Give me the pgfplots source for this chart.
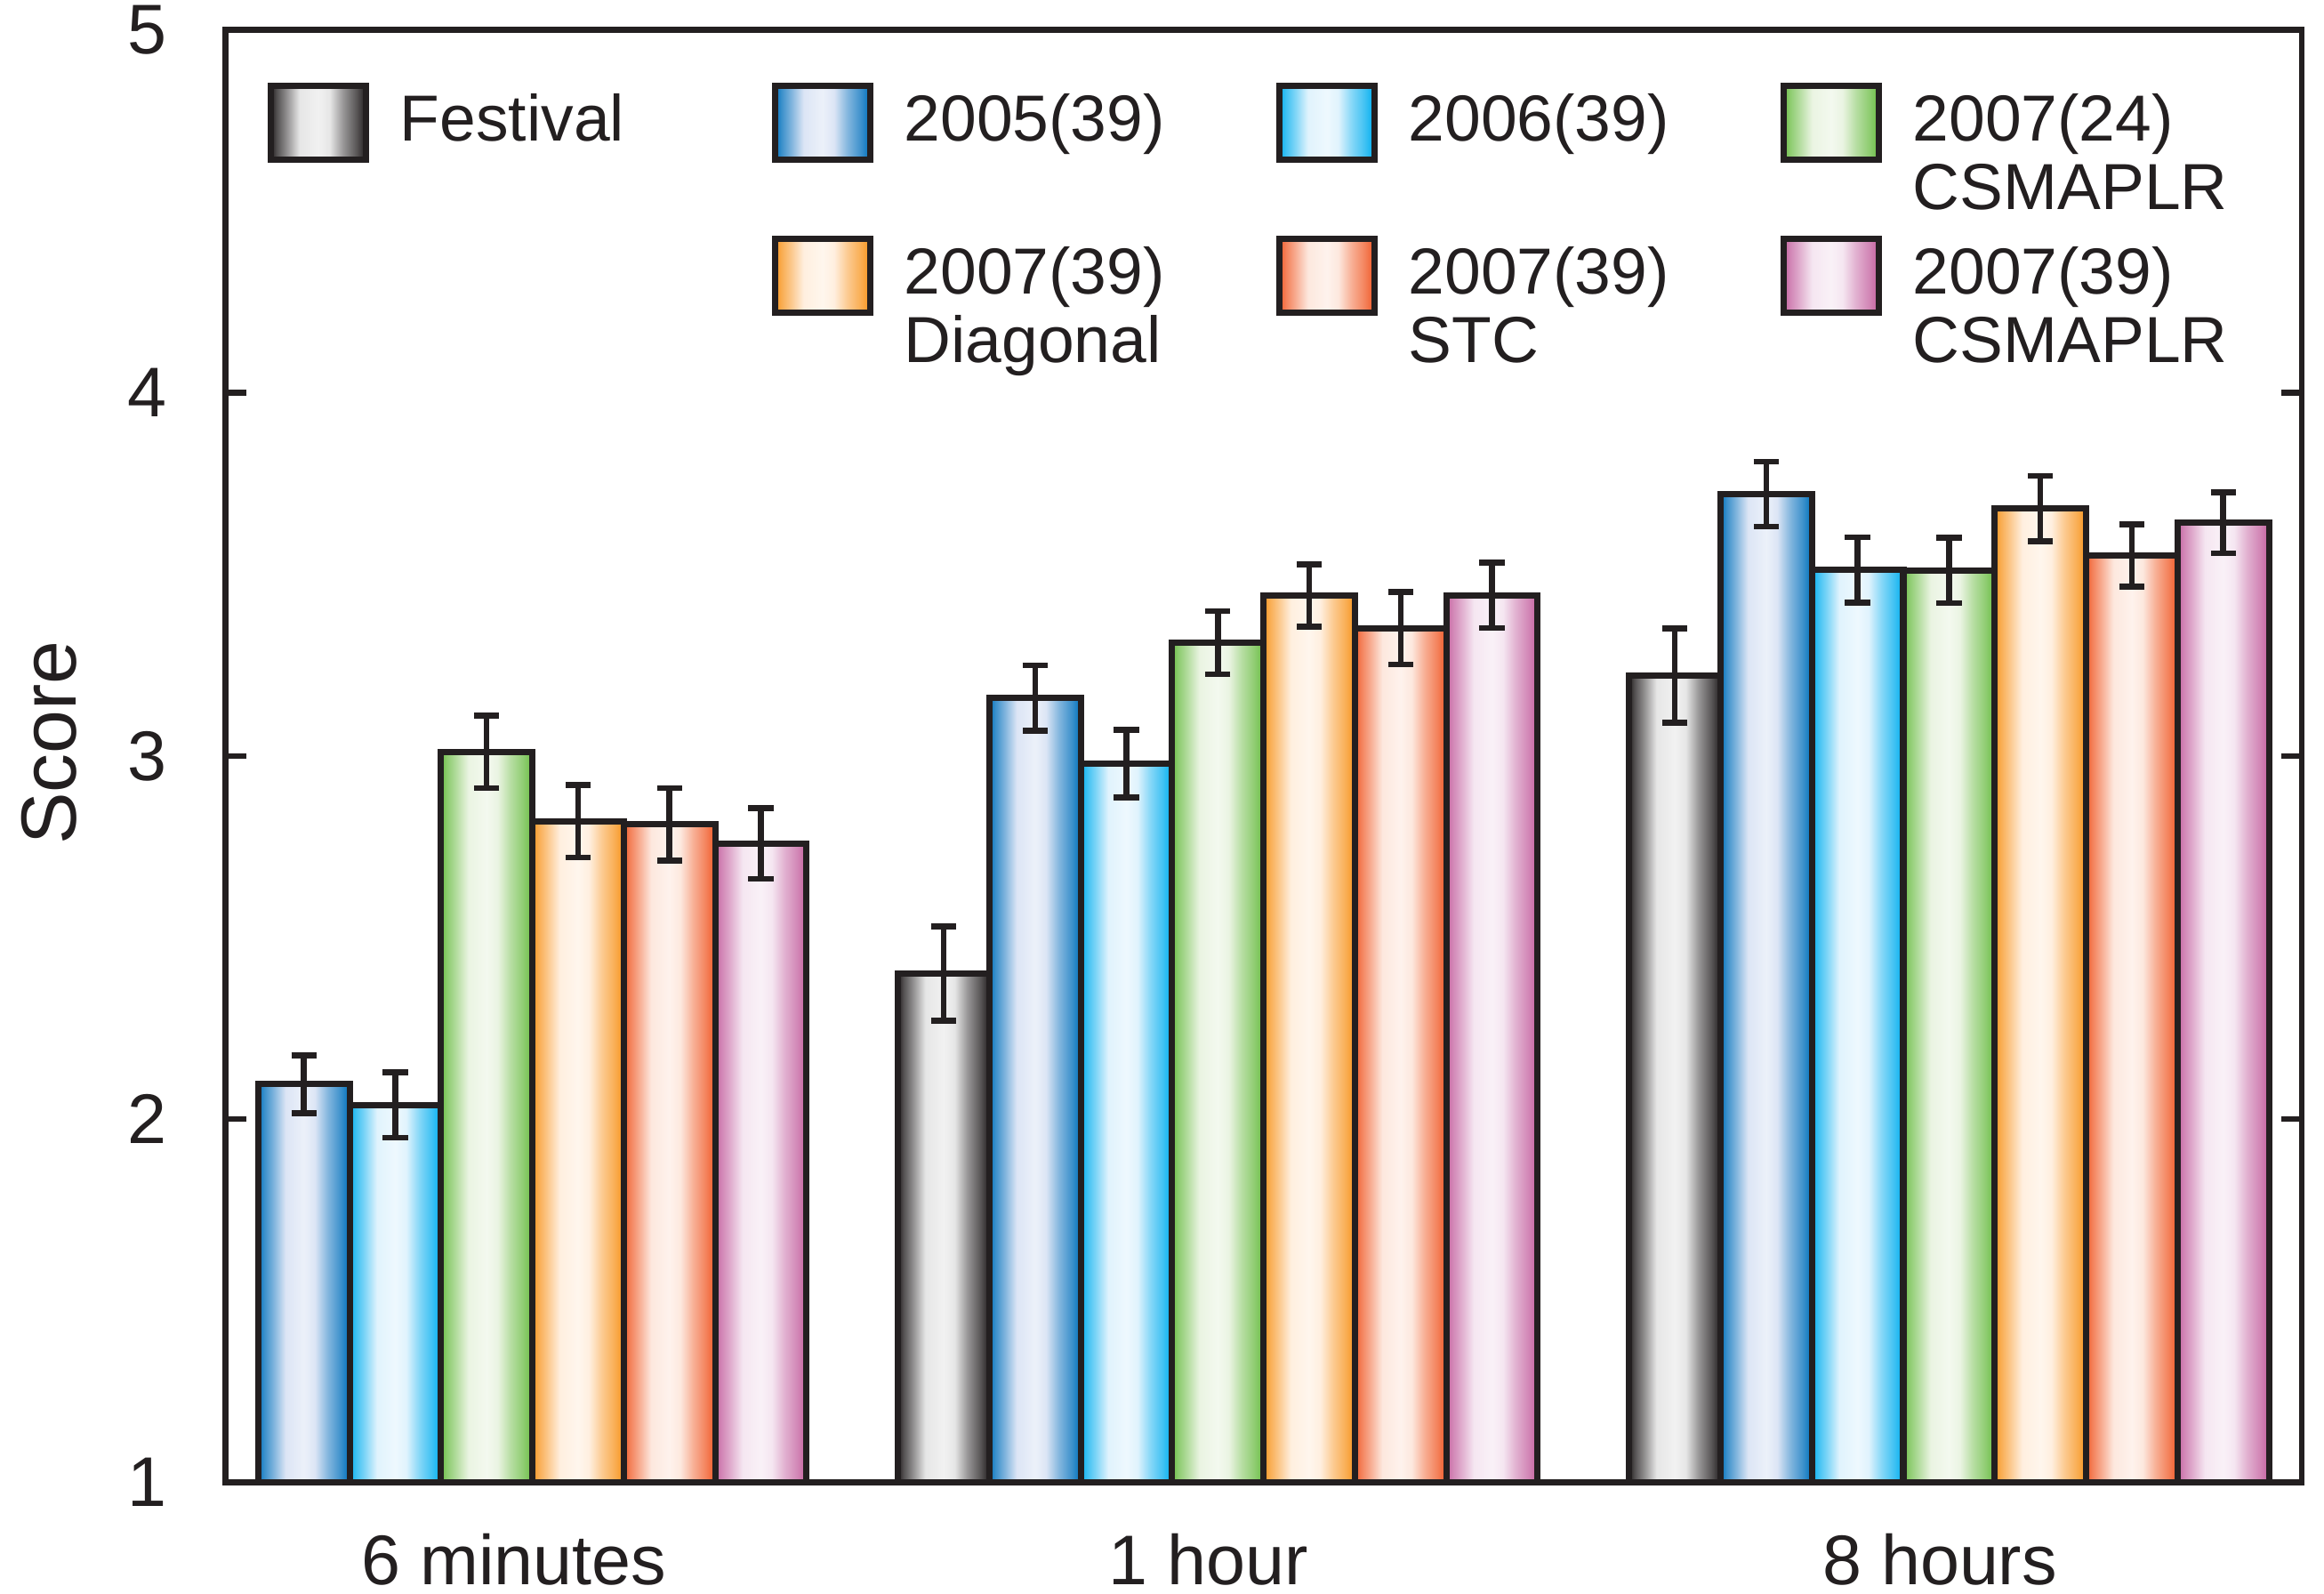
\documentclass[border=0pt]{standalone}
\usepackage{fontspec}
\setmainfont{Liberation Sans}
\usepackage{pgfplots}
\pgfplotsset{compat=1.18}

\definecolor{lc}{HTML}{231F20}
\definecolor{festD}{HTML}{231F20}\definecolor{festL}{HTML}{E6E6E6}
\definecolor{aD}{HTML}{0071BC}\definecolor{aL}{HTML}{DCE5F5}
\definecolor{bD}{HTML}{00AEEF}\definecolor{bL}{HTML}{E0F3FD}
\definecolor{cD}{HTML}{6BBD45}\definecolor{cL}{HTML}{EAF4E2}
\definecolor{dD}{HTML}{F7941D}\definecolor{dL}{HTML}{FFEFDF}
\definecolor{eD}{HTML}{F05A28}\definecolor{eL}{HTML}{FDE8DE}
\definecolor{fD}{HTML}{C4619F}\definecolor{fL}{HTML}{F5E6F1}

\newcommand{\mkshade}[3]{%
  \pgfdeclarehorizontalshading{#1}{100bp}{color(0bp)=(#2); color(25bp)=(#2);
    color(28bp)=(#2!75!#3); color(33bp)=(#2!45!#3); color(40bp)=(#3);
    color(50bp)=(#3!55!white); color(56bp)=(#3); color(63bp)=(#2!40!#3);
    color(70bp)=(#2!72!#3); color(75bp)=(#2); color(100bp)=(#2)}}
\mkshade{shFest}{festD}{festL}
\mkshade{shA}{aD}{aL}
\mkshade{shB}{bD}{bL}
\mkshade{shC}{cD}{cL}
\mkshade{shD}{dD}{dL}
\mkshade{shE}{eD}{eL}
\mkshade{shF}{fD}{fL}

\pgfplotsset{
  mybar/.style={ybar, bar width=1, bar shift=0pt, draw=lc, line width=1.2pt,
    shade, shading=#1,
    legend image code/.code={\draw[##1] (0mm,-1.24mm) rectangle (6.4mm,3.76mm);},
    error bars/.cd, y dir=both, y explicit,
    error bar style={line width=1.1pt, draw=lc},
    error mark options={rotate=90, mark size=0.85mm, line width=1.1pt, draw=lc}},
  bb/.style={forget plot, mybar=#1},
}

\begin{document}
\begin{tikzpicture}
\path[use as bounding box] (0,0) rectangle (156.8mm,107.5mm);
\begin{axis}[
  at={(15.2mm,7.5mm)}, anchor=south west,
  scale only axis, width=140.1mm, height=98mm,
  xmin=-0.36, xmax=22.36, ymin=1, ymax=5,
  enlargelimits=false,
  axis line style={draw=lc, line width=1.1pt},
  xtick={2.8,10.4,18.4}, xticklabels={6 minutes,1 hour,8 hours},
  x tick style={draw=none},
  ytick={1,2,3,4,5},
  y tick style={draw=lc, line width=1.1pt},
  tick align=inside, major tick length=1.4mm,
  ytick pos=both, yticklabel pos=left, xtick pos=bottom,
  /pgf/number format/assume math mode=true,
  tick label style={font=\fontsize{13.5}{16}\selectfont, text=lc},
  yticklabel style={anchor=east, inner sep=0pt, xshift=-3.9mm},
  xticklabel style={anchor=north, inner sep=0pt, yshift=-3.4mm},
  ylabel={Score},
  every axis y label/.style={at={(rel axis cs:-0.0849,0.509)}, rotate=90, anchor=center,
    font=\fontsize{15}{18}\selectfont, text=lc},
  legend columns=4,
  legend style={at={(0,1)}, anchor=north west, xshift=2.8mm, yshift=-3.5mm,
    draw=none, fill=none, inner sep=0pt, column sep=2.1mm, row sep=4.9mm,
    font=\fontsize{12.5}{13.1}\selectfont, text=lc,
    cells={anchor=base west},
    nodes={text width=23.0mm, align=left, inner sep=0pt, anchor=base west}},
]
% legend-bearing bars
\addplot[mybar=shFest] coordinates {(7.5,2.401) +- (0,0.13)};
\addlegendentry{Festival}
\addplot[mybar=shA] coordinates {(0.5,2.096) +- (0,0.08)};
\addlegendentry{2005(39)}
\addplot[mybar=shB] coordinates {(1.5,2.039) +- (0,0.09)};
\addlegendentry{2006(39)}
\addplot[mybar=shC] coordinates {(2.5,3.011) +- (0,0.10)};
\addlegendentry{2007(24)\\CSMAPLR}
\addlegendimage{empty legend}
\addlegendentry{}
\addplot[mybar=shD] coordinates {(3.5,2.820) +- (0,0.10)};
\addlegendentry{2007(39)\\Diagonal}
\addplot[mybar=shE] coordinates {(4.5,2.812) +- (0,0.10)};
\addlegendentry{2007(39)\\STC}
\addplot[mybar=shF] coordinates {(5.5,2.759) +- (0,0.097)};
\addlegendentry{2007(39)\\CSMAPLR}
% 1 hour
\addplot[bb=shA] coordinates {(8.5,3.160) +- (0,0.09)};
\addplot[bb=shB] coordinates {(9.5,2.979) +- (0,0.093)};
\addplot[bb=shC] coordinates {(10.5,3.312) +- (0,0.087)};
\addplot[bb=shD] coordinates {(11.5,3.442) +- (0,0.086)};
\addplot[bb=shE] coordinates {(12.5,3.352) +- (0,0.10)};
\addplot[bb=shF] coordinates {(13.5,3.442) +- (0,0.09)};
% 8 hours
\addplot[bb=shFest] coordinates {(15.5,3.221) +- (0,0.13)};
\addplot[bb=shA] coordinates {(16.5,3.721) +- (0,0.09)};
\addplot[bb=shB] coordinates {(17.5,3.512) +- (0,0.09)};
\addplot[bb=shC] coordinates {(18.5,3.511) +- (0,0.09)};
\addplot[bb=shD] coordinates {(19.5,3.681) +- (0,0.09)};
\addplot[bb=shE] coordinates {(20.5,3.552) +- (0,0.086)};
\addplot[bb=shF] coordinates {(21.5,3.642) +- (0,0.084)};
\end{axis}
\end{tikzpicture}
\end{document}
